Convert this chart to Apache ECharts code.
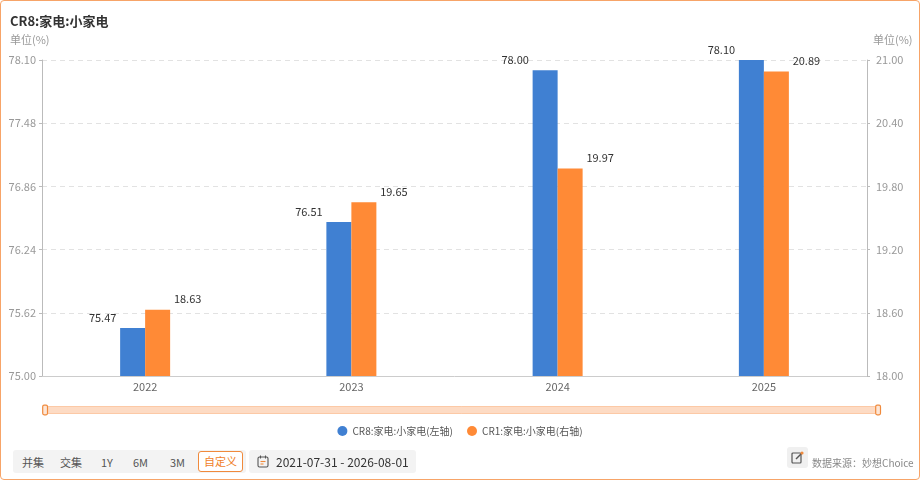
<!DOCTYPE html>
<html><head><meta charset="utf-8">
<script src="https://cdn.jsdelivr.net/npm/echarts@6/dist/echarts.min.js"></script>
<style>
html,body{margin:0;padding:0;background:#fff;font-family:"Noto Sans CJK SC","Noto Sans",sans-serif;}
#wrap{position:absolute;left:0;top:0;width:918px;height:478px;border:1px solid #f7a468;border-radius:4px;overflow:hidden;}
#chart{position:absolute;left:0;top:0;width:918px;height:478px;}
.bar1{position:absolute;left:12px;top:449px;width:233px;height:23px;background:#f3f3f3;border-radius:3px;font-size:11px;color:#555;}
.bar1 span{position:absolute;top:4px;}
.btn{position:absolute;left:185px;top:1px;width:43px;height:19px;border:1px solid #f08a3c;border-radius:3px;background:#fff;color:#f07f2a;font-size:11px;text-align:center;line-height:19px;}
.bar2{position:absolute;left:248px;top:449px;width:167px;height:23px;background:#f3f3f3;border-radius:3px;font-size:12px;color:#333;}
.src{position:absolute;left:811px;top:454px;font-size:10px;color:#888;}
.ico{position:absolute;left:786px;top:446px;width:21px;height:21px;background:#f0f0f0;border-radius:3px;}
</style></head>
<body>
<div id="wrap">
<div id="chart"></div>
<div class="bar1"><span style="left:9px">并集</span><span style="left:47px">交集</span><span style="left:88px">1Y</span><span style="left:120px">6M</span><span style="left:157px">3M</span><div class="btn">自定义</div></div>
<div class="bar2">
<svg style="position:absolute;left:8px;top:5px" width="12" height="13" viewBox="0 0 12 13"><rect x="1" y="2" width="10" height="10" rx="1.5" fill="none" stroke="#555" stroke-width="1.1"/><line x1="3.5" y1="0.5" x2="3.5" y2="3.5" stroke="#555" stroke-width="1.1"/><line x1="8.5" y1="0.5" x2="8.5" y2="3.5" stroke="#555" stroke-width="1.1"/><line x1="3.5" y1="6.5" x2="8.5" y2="6.5" stroke="#f08a3c" stroke-width="1.1"/><line x1="3.5" y1="9" x2="6.5" y2="9" stroke="#f08a3c" stroke-width="1.1"/></svg>
<span style="position:absolute;left:27px;top:3px">2021-07-31 - 2026-08-01</span></div>
<div class="ico"><svg style="position:absolute;left:4px;top:4px" width="13" height="13" viewBox="0 0 13 13"><rect x="1" y="2" width="9" height="10" rx="1" fill="none" stroke="#555" stroke-width="1.2"/><line x1="5" y1="8" x2="11" y2="2" stroke="#555" stroke-width="1.4"/><circle cx="11" cy="2" r="1.6" fill="#f08a3c"/></svg></div>
<div class="src">数据来源：妙想Choice</div>
</div>
<script>
var categories = ['2022', '2023', '2024', '2025'];
var cr8Values = [75.47, 76.51, 78.00, 78.10];
var cr1Values = [18.63, 19.65, 19.97, 20.89];
var leftTicks = { min: 75.00, max: 78.10, interval: 0.62 };
var rightTicks = { min: 18.00, max: 21.00, interval: 0.60 };
var seriesNames = ['CR8:家电:小家电(左轴)', 'CR1:家电:小家电(右轴)'];
var titleText = 'CR8:家电:小家电';
var unitText = '单位(%)';

var chart = echarts.init(document.getElementById('chart'), null, {renderer:'canvas'});
var font = '"Noto Sans CJK SC","Noto Sans",sans-serif';
chart.setOption({
  animation:false,
  textStyle:{fontFamily:font},
  title:{text:titleText,left:4,top:9,textStyle:{fontSize:13,fontWeight:'bold',color:'#333',fontFamily:font}},
  graphic:[
    {type:'text',left:9,top:33,style:{text:unitText,fontSize:11,fill:'#999',fontFamily:font}},
    {type:'text',left:872,top:33,style:{text:unitText,fontSize:11,fill:'#999',fontFamily:font}}
  ],
  grid:{left:41,right:52,top:59,bottom:103},
  legend:{bottom:38,left:'center',icon:'circle',itemWidth:10,itemHeight:10,itemGap:14,
    textStyle:{fontSize:10,color:'#555',fontFamily:font},data:seriesNames},
  dataZoom:[{type:'slider',xAxisIndex:0,start:0,end:100,left:42,right:41,bottom:65,height:8,
    showDetail:false,showDataShadow:false,brushSelect:false,
    backgroundColor:'#fde6d6',borderColor:'#fcc9a6',fillerColor:'rgba(253,212,183,0.6)',
    handleIcon:'path://M30,0 L70,0 Q100,0 100,30 L100,170 Q100,200 70,200 L30,200 Q0,200 0,170 L0,30 Q0,0 30,0 Z',
    handleSize:'120%',handleStyle:{color:'#fde6d6',borderColor:'#f08a3c',borderWidth:1.2},
    moveHandleSize:0,
    emphasis:{handleStyle:{borderColor:'#f08a3c'}}
  }],
  xAxis:{type:'category',data:categories,
    axisLine:{lineStyle:{color:'#ccc'}},axisTick:{show:false},
    axisLabel:{color:'#666',fontSize:11,margin:5}},
  yAxis:[
    {type:'value',min:leftTicks.min,max:leftTicks.max,interval:leftTicks.interval,
     axisLine:{show:true,lineStyle:{color:'#bbb'}},axisTick:{show:true,length:3,lineStyle:{color:'#bbb'}},
     axisLabel:{color:'#999',fontSize:11,margin:6,formatter:function(v){return v.toFixed(2);}},
     splitLine:{show:true,lineStyle:{color:'#e2e2e2',type:[5,4]}}},
    {type:'value',min:rightTicks.min,max:rightTicks.max,interval:rightTicks.interval,
     axisLine:{show:true,lineStyle:{color:'#bbb'}},axisTick:{show:true,length:3,lineStyle:{color:'#bbb'}},
     axisLabel:{color:'#999',fontSize:11,margin:9,formatter:function(v){return v.toFixed(2);}},
     splitLine:{show:false}}
  ],
  series:[
    {name:seriesNames[0],type:'bar',yAxisIndex:0,data:cr8Values,barWidth:25,barGap:'0%',
     itemStyle:{color:'#4080d2'},
     label:{show:true,position:'top',offset:[-30,0],color:'#333',fontSize:11,formatter:function(p){return p.value.toFixed(2);}}},
    {name:seriesNames[1],type:'bar',yAxisIndex:1,data:cr1Values,barWidth:25,barGap:'0%',
     itemStyle:{color:'#ff8a36'},
     label:{show:true,position:'top',offset:[30,0],color:'#333',fontSize:11,formatter:function(p){return p.value.toFixed(2);}}}
  ]
});
</script>
</body></html>
